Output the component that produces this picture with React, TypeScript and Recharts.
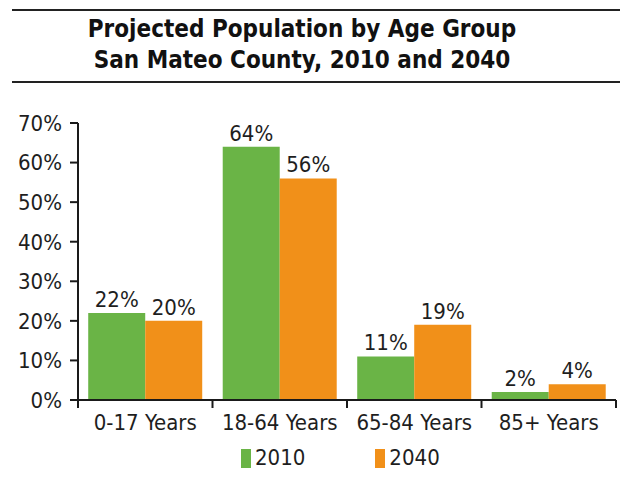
import React from 'react';
import { BarChart, Bar, XAxis, YAxis, Legend, LabelList } from 'recharts';

const categories = ['0-17 Years', '18-64 Years', '65-84 Years', '85+ Years'];
const values2010 = [22, 64, 11, 2];
const values2040 = [20, 56, 19, 4];
const yTicks = [0, 10, 20, 30, 40, 50, 60, 70];

const data = categories.map((c, i) => ({ name: c, y2010: values2010[i], y2040: values2040[i] }));

const W = 620;
const H = 480;
const MARGIN = { top: 123, right: 4, bottom: 0, left: 0 };
const Y_W = 78;
const X_H = 40;
const LEG_H = 40;
const BAND = (W - MARGIN.left - MARGIN.right - Y_W) / categories.length;
const FONT = '"DejaVu Sans Condensed", "DejaVu Sans", Verdana, sans-serif';
const TXT = '#1e1e1e';
const AXIS = '#1a1a1a';
const GREEN = '#6ab446';
const ORANGE = '#f19019';
const TICK_SIZE = 8;
const TICK_MARGIN = 2;
const FS = 22;

const XTick = (props: any) => {
  const { x, y, payload, index } = props;
  const y0 = y - TICK_SIZE - TICK_MARGIN;
  return (
    <g>
      <line x1={x - BAND / 2} x2={x - BAND / 2} y1={y0} y2={y0 + TICK_SIZE} stroke={AXIS} strokeWidth={2} />
      {index === categories.length - 1 && (
        <line x1={x + BAND / 2} x2={x + BAND / 2} y1={y0} y2={y0 + TICK_SIZE} stroke={AXIS} strokeWidth={2} />
      )}
      <text x={x} y={y} dy={20} textAnchor="middle" fill={TXT} fontSize={FS} fontFamily={FONT}>
        {payload.value}
      </text>
    </g>
  );
};

const LegendContent = () => {
  const items = [
    { label: '2010', color: GREEN },
    { label: '2040', color: ORANGE },
  ];
  return (
    <div style={{ display: 'flex', paddingLeft: 241, paddingTop: 7, gap: 70, fontFamily: FONT, fontSize: FS, color: TXT }}>
      {items.map((it) => (
        <div key={it.label} style={{ display: 'flex', alignItems: 'center' }}>
          <span style={{ display: 'inline-block', width: 10, height: 19, background: it.color, marginRight: 4 }} />
          <span style={{ lineHeight: '22px' }}>{it.label}</span>
        </div>
      ))}
    </div>
  );
};

export default function App() {
  return (
    <div style={{ position: 'absolute', left: 0, top: 0, width: W, height: H, background: '#fff', fontFamily: FONT }}>
      <div style={{ position: 'absolute', left: 12, right: 0, top: 9, height: 0, borderTop: '2px solid #222' }} />
      <div
        style={{
          position: 'absolute',
          left: 0,
          width: 604,
          top: 14,
          textAlign: 'center',
          fontWeight: 'bold',
          fontSize: 24,
          lineHeight: '31px',
          color: '#111',
        }}
      >
        Projected Population by Age Group
        <br />
        San Mateo County, 2010 and 2040
      </div>
      <div style={{ position: 'absolute', left: 12, right: 0, top: 81, height: 0, borderTop: '2px solid #222' }} />
      <div style={{ position: 'absolute', left: 0, top: 0 }}>
        <BarChart width={W} height={H} data={data} margin={MARGIN} barCategoryGap="7.6%" barGap={0}>
          <XAxis
            dataKey="name"
            height={X_H}
            tickLine={false}
            tickSize={TICK_SIZE}
            tickMargin={TICK_MARGIN}
            axisLine={{ stroke: AXIS, strokeWidth: 2 }}
            tick={<XTick />}
            interval={0}
          />
          <YAxis
            width={Y_W}
            domain={[0, 70]}
            ticks={yTicks}
            interval={0}
            tickFormatter={(v: number) => `${v}%`}
            tickSize={TICK_SIZE}
            tickMargin={8}
            axisLine={{ stroke: AXIS, strokeWidth: 2 }}
            tickLine={{ stroke: AXIS, strokeWidth: 2 }}
            tick={{ fill: TXT, fontSize: FS, fontFamily: FONT }}
          />
          <Legend verticalAlign="bottom" height={LEG_H} content={<LegendContent />} wrapperStyle={{ left: 0, width: W }} />
          <Bar dataKey="y2010" name="2010" fill={GREEN} isAnimationActive={false}>
            <LabelList dataKey="y2010" position="top" offset={6} formatter={(v: any) => `${v}%`} fill={TXT} fontSize={FS} fontFamily={FONT} />
          </Bar>
          <Bar dataKey="y2040" name="2040" fill={ORANGE} isAnimationActive={false}>
            <LabelList dataKey="y2040" position="top" offset={6} formatter={(v: any) => `${v}%`} fill={TXT} fontSize={FS} fontFamily={FONT} />
          </Bar>
        </BarChart>
      </div>
    </div>
  );
}
